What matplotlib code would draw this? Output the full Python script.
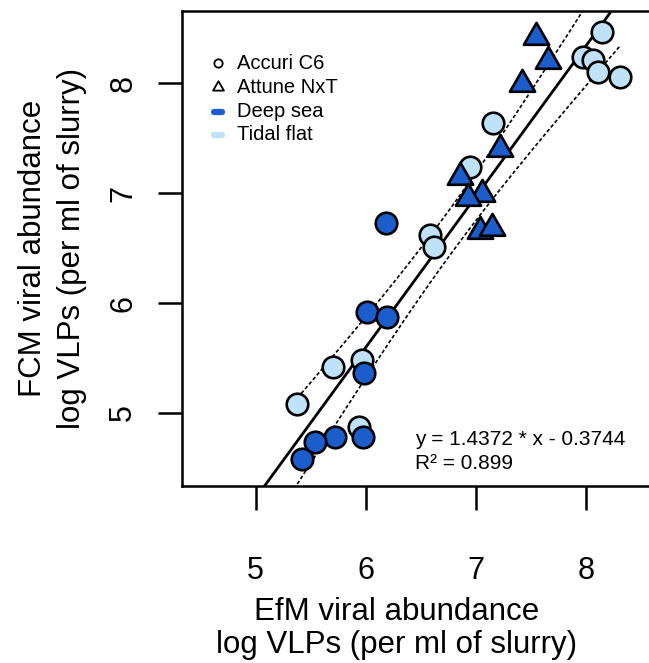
import numpy as np
import matplotlib
matplotlib.use('Agg')
import matplotlib.pyplot as plt
from matplotlib.path import Path
from matplotlib.lines import Line2D

plt.rcParams['font.family'] = ['Liberation Sans', 'DejaVu Sans']

# ---------------- data (log VLPs per ml of slurry) ----------------
tidal_accuri_x = [8.143, 7.975, 8.064, 8.112, 8.309, 7.158, 6.946, 6.586, 6.619, 5.705, 5.963, 5.378, 5.941]
tidal_accuri_y = [8.464, 8.242, 8.212, 8.106, 8.060, 7.636, 7.241, 6.624, 6.506, 5.421, 5.482, 5.082, 4.875]
deep_accuri_x = [6.182, 6.008, 6.190, 5.986, 5.977, 5.720, 5.539, 5.423]
deep_accuri_y = [6.731, 5.920, 5.876, 5.367, 4.779, 4.784, 4.739, 4.579]
deep_attune_x = [7.546, 7.652, 7.416, 7.219, 6.856, 7.053, 6.931, 7.037, 7.143]
deep_attune_y = [8.419, 8.202, 7.995, 7.398, 7.146, 6.994, 6.954, 6.660, 6.681]

x_ticks = [5, 6, 7, 8]
y_ticks = [5, 6, 7, 8]
legend_labels = ['Accuri C6', 'Attune NxT', 'Deep sea', 'Tidal flat']
eq_text = 'y = 1.4372 * x - 0.3744'
r2_text = 'R\u00b2 = 0.899'
t_crit = 2.7633  # t quantile (99% two-sided, df = 28)

deep_col = '#1C5DCC'
tidal_col = '#BFE2F9'

# ---------------- layout helpers ----------------
W, H = 649, 663
fig = plt.figure(figsize=(W / 100, H / 100), dpi=100)


def fx(px):
    return px / W


def fy(py):
    return 1 - py / H


ax_l, ax_t, ax_r, ax_b = 181.7, 11.0, 655.0, 486.0
ax = fig.add_axes([fx(ax_l), fy(ax_b), (ax_r - ax_l) / W, (ax_b - ax_t) / H])

px_per_x = 110.1
px_per_y = 109.9
ax.set_xlim(5 - (255.7 - ax_l) / px_per_x, 5 + (ax_r - 255.7) / px_per_x)
ax.set_ylim(5 - (ax_b - 413.0) / px_per_y, 8 + (83.3 - ax_t) / px_per_y)

# triangle marker with centroid at the origin (as in R pch 24)
tri = Path([(0, 1), (-0.866, -0.5), (0.866, -0.5), (0, 1)],
           [Path.MOVETO, Path.LINETO, Path.LINETO, Path.CLOSEPOLY])

# ---------------- regression ----------------
x_all = np.array(tidal_accuri_x + deep_accuri_x + deep_attune_x)
y_all = np.array(tidal_accuri_y + deep_accuri_y + deep_attune_y)
n = len(x_all)
slope, intercept = np.polyfit(x_all, y_all, 1)
resid = y_all - (slope * x_all + intercept)
s = np.sqrt(np.sum(resid ** 2) / (n - 2))
xbar = x_all.mean()
sxx = np.sum((x_all - xbar) ** 2)
xs = np.linspace(x_all.min(), x_all.max(), 200)
half = t_crit * s * np.sqrt(1 / n + (xs - xbar) ** 2 / sxx)
yfit = slope * xs + intercept

ax.axline((xbar, slope * xbar + intercept), slope=slope, color='black', lw=2.0, zorder=2)
ax.plot(xs, yfit + half, color='black', lw=1.2, dashes=(2.2, 1.4), zorder=2)
ax.plot(xs, yfit - half, color='black', lw=1.2, dashes=(2.2, 1.4), zorder=2)

# ---------------- points ----------------
ax.plot(tidal_accuri_x, tidal_accuri_y, 'o', ms=15.5, mfc=tidal_col, mec='black', mew=1.9, zorder=3)
ax.plot(deep_accuri_x, deep_accuri_y, 'o', ms=15.5, mfc=deep_col, mec='black', mew=1.9, zorder=4)
ax.plot(deep_attune_x, deep_attune_y, marker=tri, ls='none', ms=21, mfc=deep_col, mec='black',
        mew=1.9, zorder=5)

# ---------------- axes styling ----------------
for sp in ax.spines.values():
    sp.set_linewidth(1.8)
ax.set_xticks(x_ticks)
ax.set_yticks(y_ticks)
ax.set_xticklabels([str(v) for v in x_ticks])
ax.set_yticklabels([str(v) for v in y_ticks], rotation=90, va='center')
ax.tick_params(axis='both', direction='out', length=17.3, width=1.8, labelsize=22)
ax.tick_params(axis='x', pad=33)
ax.tick_params(axis='y', pad=14)

# axis titles
lab_fs = 22.5
fig.text(fx(397), fy(612), 'EfM viral abundance', ha='center', va='center', fontsize=lab_fs)
fig.text(fx(397), fy(645), 'log VLPs (per ml of slurry)', ha='center', va='center', fontsize=lab_fs)
fig.text(fx(33), fy(248.5), 'FCM viral abundance', ha='center', va='center', rotation=90, fontsize=lab_fs)
fig.text(fx(72), fy(248.5), 'log VLPs (per ml of slurry)', ha='center', va='center', rotation=90,
         fontsize=lab_fs)

# ---------------- legend (manual, R style) ----------------
leg_fs = 14.5
sym_x = 218.3
txt_x = 236.7
rows = [63.3, 87.3, 111.7, 135.0]
fig.add_artist(Line2D([fx(sym_x)], [fy(rows[0])], marker='o', ms=6, mfc='none', mec='black', mew=1.3,
                      ls='none', transform=fig.transFigure))
fig.add_artist(Line2D([fx(sym_x)], [fy(rows[1])], marker=tri, ms=9, mfc='none', mec='black', mew=1.3,
                      ls='none', transform=fig.transFigure))
fig.add_artist(Line2D([fx(sym_x - 4), fx(sym_x + 4)], [fy(rows[2])] * 2, color=deep_col, lw=4.5,
                      solid_capstyle='round', transform=fig.transFigure))
fig.add_artist(Line2D([fx(sym_x - 4), fx(sym_x + 4)], [fy(rows[3])] * 2, color=tidal_col, lw=4.5,
                      solid_capstyle='round', transform=fig.transFigure))
for r, lab in zip(rows, legend_labels):
    fig.text(fx(txt_x), fy(r), lab, ha='left', va='center', fontsize=leg_fs)

# equation
fig.text(fx(415), fy(445), eq_text, ha='left', va='baseline', fontsize=15)
fig.text(fx(415), fy(469), r2_text, ha='left', va='baseline', fontsize=15)

fig.savefig('out.png', dpi=100)
